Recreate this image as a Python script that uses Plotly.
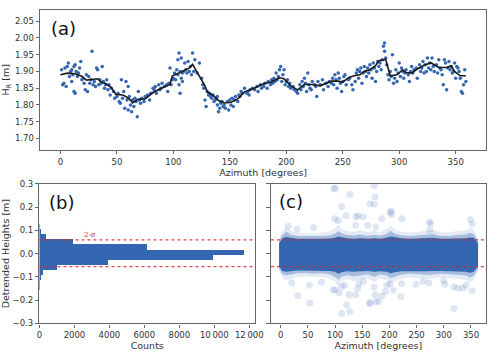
import plotly.graph_objects as go

# ---- panel (a): heights vs azimuth ----
a_pts = [
    (1, 1.905), (2, 1.86), (3, 1.865), (4, 1.91), (5, 1.855), (6, 1.915), (7, 1.925), (8, 1.885),
    (9, 1.9), (10, 1.87), (10, 1.905), (11, 1.89), (12, 1.915), (12, 1.84), (13, 1.835), (13, 1.92),
    (14, 1.9), (15, 1.885), (16, 1.895), (17, 1.91), (18, 1.93), (19, 1.875), (20, 1.88),
    (21, 1.865), (22, 1.845), (23, 1.89), (24, 1.84), (25, 1.885), (26, 1.865), (27, 1.875), (28, 1.96),
    (29, 1.86), (30, 1.87), (31, 1.855), (32, 1.91), (33, 1.905), (34, 1.86), (35, 1.875), (36, 1.865),
    (37, 1.915), (38, 1.87), (39, 1.85), (40, 1.86), (41, 1.875), (42, 1.845),
    (43, 1.86), (44, 1.83), (45, 1.85), (47, 1.84), (48, 1.82), (50, 1.825), (51, 1.835), (52, 1.81),
    (53, 1.805), (54, 1.875), (55, 1.82), (56, 1.84), (57, 1.79), (58, 1.87), (59, 1.815), (60, 1.785),
    (60, 1.855), (61, 1.825),
    (62, 1.8), (63, 1.78), (64, 1.815), (65, 1.795), (66, 1.82), (67, 1.81), (68, 1.765), (69, 1.84),
    (70, 1.815), (71, 1.805), (72, 1.82), (74, 1.81), (75, 1.825), (77, 1.83), (79, 1.815),
    (80, 1.835), (82, 1.85), (83, 1.845), (84, 1.855), (85, 1.835), (87, 1.86), (88, 1.845), (89, 1.85),
    (90, 1.865), (92, 1.855), (94, 1.86), (95, 1.84), (96, 1.865), (97, 1.91), (98, 1.86), (99, 1.875),
    (100, 1.88), (101, 1.895), (102, 1.875), (103, 1.905), (104, 1.935), (104, 1.89), (105, 1.955),
    (105, 1.86), (106, 1.9), (106, 1.835), (107, 1.88), (107, 1.94), (108, 1.895), (108, 1.87),
    (109, 1.9), (110, 1.925), (111, 1.905), (112, 1.895), (113, 1.93), (114, 1.9), (115, 1.915),
    (116, 1.89), (117, 1.955), (118, 1.9), (119, 1.935),
    (121, 1.895), (123, 1.925), (125, 1.88), (126, 1.86), (127, 1.85), (128, 1.815), (129, 1.795),
    (130, 1.84), (131, 1.83), (132, 1.835), (133, 1.825), (134, 1.82), (135, 1.83), (136, 1.81),
    (137, 1.815), (138, 1.82), (139, 1.8), (139, 1.825),
    (140, 1.78), (141, 1.79), (142, 1.805), (143, 1.81), (144, 1.795), (145, 1.8), (146, 1.79),
    (148, 1.81), (149, 1.785), (150, 1.815), (151, 1.8), (152, 1.82), (153, 1.795), (154, 1.815),
    (155, 1.825), (157, 1.81), (158, 1.83), (159, 1.825),
    (160, 1.84), (161, 1.835), (163, 1.85), (165, 1.835), (166, 1.84), (167, 1.83), (168, 1.845),
    (170, 1.85), (172, 1.845), (174, 1.855), (175, 1.84), (177, 1.86), (178, 1.85), (180, 1.855),
    (181, 1.865), (183, 1.85), (184, 1.87), (186, 1.86), (187, 1.875), (188, 1.865),
    (189, 1.88), (190, 1.87), (191, 1.895), (192, 1.875), (193, 1.885), (194, 1.905), (195, 1.915),
    (196, 1.87), (197, 1.89), (198, 1.905), (199, 1.86), (200, 1.87), (201, 1.875), (202, 1.855),
    (203, 1.865), (204, 1.85), (206, 1.855), (207, 1.845), (209, 1.84), (210, 1.835),
    (212, 1.86), (213, 1.845), (214, 1.87), (215, 1.855), (216, 1.88), (217, 1.865), (218, 1.84),
    (219, 1.895), (220, 1.86), (221, 1.85), (222, 1.845), (223, 1.87), (225, 1.86), (226, 1.855),
    (227, 1.825), (228, 1.87), (230, 1.86), (232, 1.875), (233, 1.845), (235, 1.865), (237, 1.855),
    (238, 1.87),
    (240, 1.865), (241, 1.88), (242, 1.86), (243, 1.89), (244, 1.875), (245, 1.85), (246, 1.895),
    (247, 1.88), (248, 1.865), (249, 1.84), (250, 1.87), (251, 1.885), (252, 1.89), (253, 1.86),
    (255, 1.875), (256, 1.88), (258, 1.86),
    (259, 1.845), (261, 1.87), (262, 1.895), (263, 1.905), (264, 1.88), (265, 1.9), (266, 1.91),
    (267, 1.865), (268, 1.895), (269, 1.915), (270, 1.9), (271, 1.885), (272, 1.91), (273, 1.895),
    (274, 1.92), (275, 1.905), (276, 1.88), (277, 1.925), (278, 1.91), (279, 1.87), (280, 1.9),
    (281, 1.93), (282, 1.915), (283, 1.925), (284, 1.905), (285, 1.935), (286, 1.975), (287, 1.985),
    (287, 1.96), (288, 1.94), (289, 1.92), (290, 1.89), (291, 1.875), (292, 1.9), (293, 1.885),
    (294, 1.95), (295, 1.865), (296, 1.88), (297, 1.905), (298, 1.87), (299, 1.895),
    (300, 1.925), (301, 1.885), (302, 1.91), (303, 1.9), (304, 1.88), (305, 1.895), (306, 1.905),
    (308, 1.89), (309, 1.87), (310, 1.9), (311, 1.915), (312, 1.895), (313, 1.905), (315, 1.91),
    (316, 1.88), (318, 1.92), (319, 1.9),
    (320, 1.91), (321, 1.93), (322, 1.895), (323, 1.92), (324, 1.9), (325, 1.94), (326, 1.91),
    (327, 1.925), (328, 1.905), (329, 1.94), (330, 1.915), (331, 1.9), (333, 1.92), (334, 1.895),
    (335, 1.935), (336, 1.91), (337, 1.905), (338, 1.89),
    (339, 1.86), (340, 1.935), (341, 1.925), (342, 1.845), (343, 1.91), (344, 1.93), (345, 1.905),
    (346, 1.915), (347, 1.895), (348, 1.9), (349, 1.925), (350, 1.88), (351, 1.915), (352, 1.91),
    (353, 1.9), (354, 1.88), (355, 1.84), (356, 1.835), (357, 1.86), (358, 1.905), (359, 1.87),
]
a_az = [p[0] for p in a_pts]
a_h = [p[1] for p in a_pts]

# trend line
a_line_az = [0, 6, 13, 19, 23, 30, 33, 36, 40, 45, 49, 56, 61, 64, 68, 75, 82, 89, 97, 99,
             105, 111, 114, 117, 122, 128, 130, 135, 140, 145, 151, 157, 163, 166, 171, 180,
             186, 194, 198, 204, 210, 216, 223, 230, 236, 240, 246, 250, 255, 260, 265, 269,
             274, 279, 282, 288, 292, 298, 303, 306, 311, 315, 321, 328, 335, 342, 346, 349,
             354, 359]
a_line_h = [1.890, 1.895, 1.893, 1.886, 1.874, 1.876, 1.878, 1.868, 1.864, 1.852, 1.832,
            1.829, 1.818, 1.806, 1.816, 1.818, 1.837, 1.849, 1.861, 1.886, 1.895, 1.905,
            1.910, 1.921, 1.890, 1.857, 1.839, 1.829, 1.813, 1.806, 1.808, 1.818, 1.839,
            1.842, 1.849, 1.863, 1.868, 1.881, 1.878, 1.857, 1.845, 1.861, 1.861, 1.857,
            1.866, 1.871, 1.871, 1.868, 1.881, 1.887, 1.890, 1.900, 1.905, 1.917, 1.932,
            1.936, 1.887, 1.890, 1.905, 1.897, 1.895, 1.905, 1.917, 1.926, 1.912, 1.912,
            1.917, 1.900, 1.887, 1.887]

# ---- panel (b): histogram of detrended heights ----
b_bin_center = [0.1171, 0.0952, 0.0733, 0.0514, 0.0295, 0.0076, -0.0144, -0.0363,
                -0.0582, -0.0801, -0.1020, -0.1239, -0.1458]
b_counts = [30, 130, 390, 1960, 6180, 11750, 9930, 3960, 1030, 250, 100, 40, 15]
b_bin_width = 0.0219

# 2-sigma levels
sigma_hi = 0.059
sigma_lo = -0.056

# ---- panel (c): detrended heights vs azimuth ----
# dense band edges (core, inner halo, outer halo)
c_band_az = [-3, 3, 10, 18, 30, 45, 60, 75, 90, 100, 106, 112, 122, 135, 145, 160, 172,
             182, 195, 202, 210, 222, 238, 255, 270, 280, 295, 310, 325, 340, 348, 355, 363]
c_core_top = [0.045, 0.066, 0.072, 0.068, 0.064, 0.064, 0.063, 0.064, 0.065, 0.068, 0.074,
              0.070, 0.066, 0.064, 0.066, 0.064, 0.066, 0.064, 0.068, 0.074, 0.070, 0.066,
              0.064, 0.065, 0.066, 0.068, 0.064, 0.064, 0.066, 0.066, 0.070, 0.068, 0.045]
c_core_bot = [-0.055, -0.074, -0.078, -0.076, -0.072, -0.072, -0.074, -0.073, -0.074, -0.078,
              -0.086, -0.080, -0.076, -0.078, -0.076, -0.074, -0.078, -0.076, -0.078, -0.084,
              -0.080, -0.076, -0.074, -0.075, -0.076, -0.074, -0.074, -0.075, -0.076, -0.078,
              -0.082, -0.078, -0.055]
c_mid_top = [0.055, 0.080, 0.095, 0.082, 0.076, 0.075, 0.074, 0.076, 0.078, 0.086, 0.098,
             0.088, 0.080, 0.078, 0.082, 0.077, 0.080, 0.077, 0.084, 0.098, 0.086, 0.078,
             0.076, 0.078, 0.082, 0.084, 0.076, 0.076, 0.080, 0.082, 0.090, 0.084, 0.055]
c_mid_bot = [-0.065, -0.088, -0.094, -0.090, -0.084, -0.083, -0.086, -0.084, -0.088, -0.100,
             -0.112, -0.098, -0.092, -0.098, -0.094, -0.088, -0.100, -0.090, -0.094, -0.106,
             -0.098, -0.090, -0.086, -0.088, -0.092, -0.088, -0.086, -0.088, -0.090, -0.094,
             -0.102, -0.094, -0.065]
c_out_top = [0.065, 0.098, 0.118, 0.098, 0.090, 0.088, 0.086, 0.090, 0.096, 0.110, 0.125,
             0.106, 0.096, 0.094, 0.102, 0.092, 0.100, 0.092, 0.106, 0.122, 0.104, 0.094,
             0.092, 0.094, 0.100, 0.104, 0.092, 0.092, 0.098, 0.100, 0.112, 0.102, 0.065]
c_out_bot = [-0.075, -0.106, -0.114, -0.108, -0.100, -0.098, -0.102, -0.100, -0.106, -0.122,
             -0.140, -0.118, -0.110, -0.118, -0.114, -0.106, -0.122, -0.108, -0.114, -0.130,
             -0.118, -0.108, -0.102, -0.106, -0.110, -0.106, -0.102, -0.106, -0.108, -0.114,
             -0.124, -0.112, -0.075]

# scattered outliers
c_out_pts = [
    (98, 0.279), (100, 0.282), (127, 0.254), (112, 0.203), (172, 0.293), (173.5, 0.244),
    (172, 0.212), (164, 0.215), (106, 0.143), (120, 0.163), (138, 0.122), (142, 0.163),
    (175, 0.115), (138.5, 0.159), (151.5, 0.159), (99.6, 0.150), (186, 0.150), (201, 0.178),
    (204, 0.168), (203, 0.182), (223, 0.150), (274, 0.136), (275.5, 0.128), (349, 0.147),
    (274, 0.101), (352, 0.128), (14, 0.118), (30, 0.105), (60, 0.112), (160, 0.122),
    (52.5, -0.136), (31, -0.181), (53.7, -0.212), (100, -0.156), (112, -0.140), (108, -0.168),
    (126, -0.177), (112, -0.257), (127, -0.250), (138, -0.177), (121, -0.219), (142, -0.149),
    (163, -0.212), (175, -0.205), (172, -0.143), (96.6, -0.156), (117.5, -0.136), (144, -0.129),
    (165, -0.212), (180, -0.205), (174, -0.177), (201, -0.129), (207, -0.156), (248.7, -0.131),
    (272.6, -0.126), (302, -0.131), (318.5, -0.236), (352, -0.159), (335, -0.149),
    (220.7, -0.184), (186, -0.182), (193, -0.163), (195, -0.136), (318.5, -0.143),
    (326, -0.149), (341, -0.136), (299.5, -0.115), (222, -0.129), (20, -0.125), (75, -0.122),
    (152, -0.118), (262, -0.118),
]
c_az = [p[0] for p in c_out_pts]
c_dh = [p[1] for p in c_out_pts]

BLUE = "#3566b2"
FONT = "DejaVu Sans"

fig = go.Figure()

# (a)
fig.add_trace(go.Scatter(x=a_az, y=a_h, mode="markers",
                         marker=dict(color=BLUE, size=3.5, line=dict(width=0)),
                         xaxis="x", yaxis="y", hoverinfo="skip"))
fig.add_trace(go.Scatter(x=a_line_az, y=a_line_h, mode="lines",
                         line=dict(color="#1a1a1a", width=1.6),
                         xaxis="x", yaxis="y", hoverinfo="skip"))

# (b)
fig.add_trace(go.Bar(x=b_counts, y=b_bin_center, width=b_bin_width, orientation="h",
                     marker=dict(color=BLUE, line=dict(width=0)),
                     xaxis="x2", yaxis="y2", hoverinfo="skip"))

# (c) band layers, outer to inner
for top, bot, col in [(c_out_top, c_out_bot, "rgba(53,102,178,0.13)"),
                      (c_mid_top, c_mid_bot, "rgba(53,102,178,0.35)"),
                      (c_core_top, c_core_bot, BLUE)]:
    fig.add_trace(go.Scatter(x=c_band_az + c_band_az[::-1], y=top + bot[::-1],
                             mode="lines", fill="toself", fillcolor=col,
                             line=dict(width=0), xaxis="x3", yaxis="y3", hoverinfo="skip"))
fig.add_trace(go.Scatter(x=c_az, y=c_dh, mode="markers",
                         marker=dict(color="rgba(53,102,178,0.16)", size=7, line=dict(width=0)),
                         xaxis="x3", yaxis="y3", hoverinfo="skip"))

axis_style = dict(showline=True, linecolor="#666", linewidth=1.2, mirror=True,
                  ticks="outside", ticklen=3.5, tickcolor="#666", tickwidth=1,
                  tickfont=dict(size=8.5, color="#333"), showgrid=False, zeroline=False)
title_font = dict(size=9.5, color="#333")

fig.update_layout(
    width=500, height=356, autosize=False,
    margin=dict(l=0, r=0, t=0, b=0),
    paper_bgcolor="white", plot_bgcolor="white",
    font=dict(family=FONT),
    showlegend=False,
    bargap=0,
    xaxis=dict(domain=[0.076, 0.988], anchor="y", range=[-17.95, 376.95],
               tickvals=[0, 50, 100, 150, 200, 250, 300, 350],
               title=dict(text="Azimuth [degrees]", font=title_font, standoff=1),
               **axis_style),
    yaxis=dict(domain=[0.5815, 0.986], anchor="x", range=[1.666, 2.084],
               tickvals=[1.70, 1.75, 1.80, 1.85, 1.90, 1.95, 2.00, 2.05], tickformat=".2f",
               title=dict(text="H<sub>R</sub> [m]", font=title_font, standoff=4),
               **axis_style),
    xaxis2=dict(domain=[0.0746, 0.5154], anchor="y2", range=[0, 12330],
                tickvals=[0, 2000, 4000, 6000, 8000, 10000, 12000],
                ticktext=["0", "2000", "4000", "6000", "8000", "10\u2009000", "12\u2009000"],
                title=dict(text="Counts", font=title_font, standoff=1),
                **axis_style),
    yaxis2=dict(domain=[0.0795, 0.4831], anchor="x2", range=[-0.3, 0.3],
                tickvals=[-0.3, -0.2, -0.1, 0.0, 0.1, 0.2, 0.3], tickformat=".1f",
                title=dict(text="Detrended Heights [m]", font=title_font, standoff=4),
                **axis_style),
    xaxis3=dict(domain=[0.548, 0.987], anchor="y3", range=[-17.95, 376.95],
                tickvals=[0, 50, 100, 150, 200, 250, 300, 350],
                title=dict(text="Azimuth [degrees]", font=title_font, standoff=1),
                **axis_style),
    yaxis3=dict(domain=[0.0795, 0.4831], anchor="x3", range=[-0.3, 0.3],
                tickvals=[-0.3, -0.2, -0.1, 0.0, 0.1, 0.2, 0.3], showticklabels=False,
                **axis_style),
)

# 2-sigma lines on (b) and (c)
for xr, yr in [("x2 domain", "y2"), ("x3 domain", "y3")]:
    for lvl in (sigma_hi, sigma_lo):
        fig.add_shape(type="line", xref=xr, yref=yr, x0=0, x1=1, y0=lvl, y1=lvl,
                      line=dict(color="rgba(214,39,40,0.85)", width=1.2, dash="dot"))

fig.add_annotation(x=2900, y=sigma_hi, xref="x2", yref="y2", text="2-σ",
                   showarrow=False, yanchor="bottom", yshift=-1,
                   font=dict(size=7, color="#d62728", family="DejaVu Serif"))

# panel letters
for txt, px, py in [("(a)", 0.094, 0.933), ("(b)", 0.090, 0.429), ("(c)", 0.560, 0.432)]:
    fig.add_annotation(x=px, y=py, xref="paper", yref="paper", text=txt, showarrow=False,
                       xanchor="left", yanchor="middle", font=dict(size=18, color="#111"))

# page body has a default margin; drop it so the figure sits at the window corner
fig.write_html("out.html", config={"displayModeBar": False},
               post_script="document.body.style.margin='0';document.body.style.overflow='hidden';")
